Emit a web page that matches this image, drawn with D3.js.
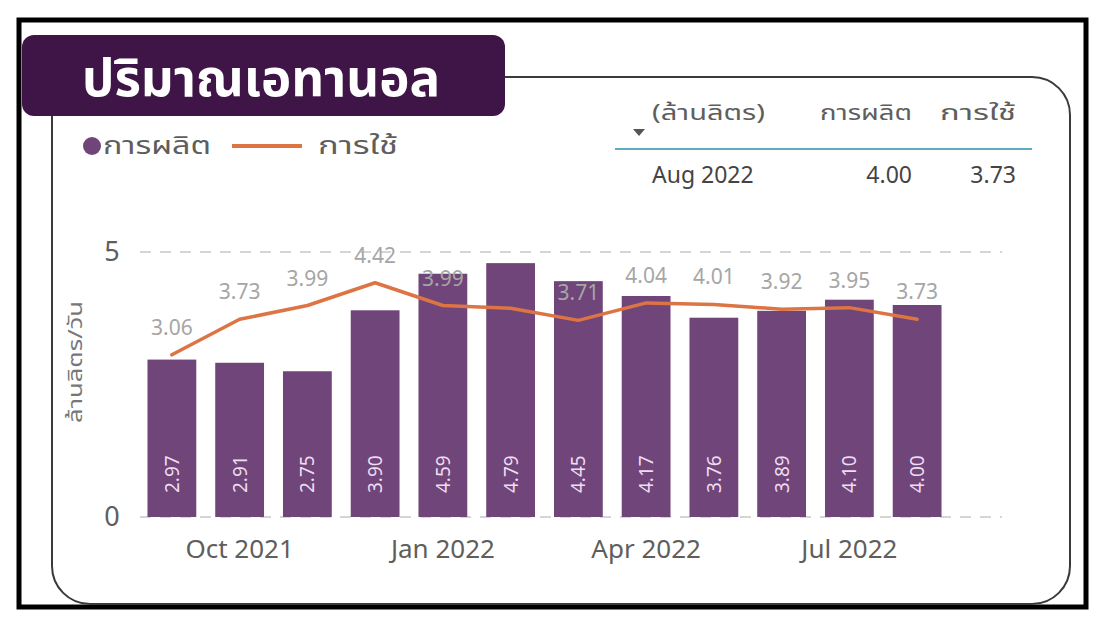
<!DOCTYPE html>
<html>
<head>
<meta charset="utf-8">
<script src="https://cdn.jsdelivr.net/npm/d3@7"></script>
<style>
  html, body { margin: 0; padding: 0; background: #ffffff; }
  svg { display: block; }
  text { font-family: "Noto Sans Thai", "Open Sans", "Noto Sans", sans-serif; }
</style>
</head>
<body>
<svg id="chart" width="1100" height="622"></svg>
<script>
// ---- data ----
const categories = ["Sep 2021","Oct 2021","Nov 2021","Dec 2021","Jan 2022","Feb 2022","Mar 2022","Apr 2022","May 2022","Jun 2022","Jul 2022","Aug 2022"];
const production = [2.97, 2.91, 2.75, 3.90, 4.59, 4.79, 4.45, 4.17, 3.76, 3.89, 4.10, 4.00];
const consumption = [3.06, 3.73, 3.99, 4.42, 3.99, 3.94, 3.71, 4.04, 4.01, 3.92, 3.95, 3.73];
const consumptionLabelShown = [true, true, true, true, true, false, true, true, true, true, true, true];
const xTickLabels = ["Oct 2021", "Jan 2022", "Apr 2022", "Jul 2022"];
const yTicks = [0, 5];
const title = "ปริมาณเอทานอล";
const seriesNames = ["การผลิต", "การใช้"];
const yAxisTitle = "ล้านลิตร/วัน";
const tableHeader = ["(ล้านลิตร)", "การผลิต", "การใช้"];
const tableRow = ["Aug 2022", "4.00", "3.73"];

// ---- styles ----
const barColor = "#704579";
const lineColor = "#dc7444";
const titleBg = "#3e1546";
const axisText = "#605e5c";
const labelGray = "#a6a6a6";

const svg = d3.select("#chart");

// outer black frame
svg.append("rect").attr("x", 19).attr("y", 20).attr("width", 1067).attr("height", 587)
  .attr("fill", "#fff").attr("stroke", "#000").attr("stroke-width", 5);

// inner rounded panel
svg.append("rect").attr("x", 52).attr("y", 77).attr("width", 1018).attr("height", 527)
  .attr("rx", 38).attr("ry", 38)
  .attr("fill", "#fff").attr("stroke", "#3a3a3a").attr("stroke-width", 2);

// title box
svg.append("rect").attr("x", 22).attr("y", 35).attr("width", 483).attr("height", 81)
  .attr("rx", 12).attr("fill", titleBg);
svg.append("text").attr("x", 82).attr("y", 96)
  .attr("font-size", 52).attr("font-weight", 700).attr("fill", "#fff")
  .attr("textLength", 358).attr("lengthAdjust", "spacingAndGlyphs").text(title);

// legend
svg.append("circle").attr("cx", 92).attr("cy", 146).attr("r", 9).attr("fill", barColor);
svg.append("text").attr("x", 103).attr("y", 154).attr("font-size", 24).attr("fill", axisText)
  .attr("textLength", 108).attr("lengthAdjust", "spacingAndGlyphs").text(seriesNames[0]);
svg.append("line").attr("x1", 232).attr("x2", 302).attr("y1", 146).attr("y2", 146)
  .attr("stroke", lineColor).attr("stroke-width", 4);
svg.append("text").attr("x", 318).attr("y", 154).attr("font-size", 24).attr("fill", axisText)
  .attr("textLength", 80).attr("lengthAdjust", "spacingAndGlyphs").text(seriesNames[1]);

// table
const colX = [652, 912, 1016];
const colAnchor = ["start", "end", "end"];
const headLen = [113, 92, 76];
svg.selectAll(".th").data(tableHeader).join("text")
  .attr("x", (d, i) => colX[i] - (colAnchor[i] === "end" ? headLen[i] : 0)).attr("y", 120)
  .attr("font-size", 22).attr("fill", axisText)
  .attr("textLength", (d, i) => headLen[i]).attr("lengthAdjust", "spacingAndGlyphs").text(d => d);
svg.append("path").attr("d", "M633,129 L645,129 L639,136 Z").attr("fill", "#555");
svg.append("line").attr("x1", 615).attr("x2", 1032).attr("y1", 149).attr("y2", 149)
  .attr("stroke", "#5aaec0").attr("stroke-width", 2);
svg.selectAll(".td").data(tableRow).join("text")
  .attr("x", (d, i) => colX[i]).attr("y", 183).attr("text-anchor", (d, i) => colAnchor[i])
  .attr("font-size", 23).attr("fill", "#444").text(d => d);

// scales
const x = d3.scaleBand().domain(categories).range([138, 951]).paddingInner(0.28).paddingOuter(0.14);
const y = d3.scaleLinear().domain([0, 5]).range([517, 252]);

// gridlines
svg.selectAll(".grid").data(yTicks).join("line")
  .attr("x1", 140).attr("x2", 1002).attr("y1", d => y(d)).attr("y2", d => y(d))
  .attr("stroke", "#c8c8c8").attr("stroke-width", 1.5).attr("stroke-dasharray", "11,9");

// y axis labels
const yAxis = d3.axisLeft(y).tickValues(yTicks).tickFormat(d3.format("d")).tickSize(0).tickPadding(0);
const gy = svg.append("g").attr("transform", "translate(122,0)").call(yAxis);
gy.select(".domain").remove();
gy.selectAll("text").attr("font-size", 27).attr("fill", axisText).attr("text-anchor", "middle").attr("dx", -10);

// y title
svg.append("text").attr("transform", "translate(82,362) rotate(-90)")
  .attr("text-anchor", "middle").attr("font-size", 20).attr("fill", "#777")
  .attr("textLength", 122).attr("lengthAdjust", "spacingAndGlyphs").text(yAxisTitle);

// bars
svg.selectAll(".bar").data(production).join("rect")
  .attr("x", (d, i) => x(categories[i])).attr("width", x.bandwidth())
  .attr("y", d => y(d)).attr("height", d => y(0) - y(d))
  .attr("fill", barColor);

// bar labels (rotated)
svg.selectAll(".blab").data(production).join("text")
  .attr("transform", (d, i) => `translate(${x(categories[i]) + x.bandwidth() / 2 + 7},${y(0) - 24}) rotate(-90)`)
  .attr("font-size", 19).attr("fill", "#eedcf2").text(d => d.toFixed(2));

// line
const cx = i => x(categories[i]) + x.bandwidth() / 2;
const line = d3.line().x((d, i) => cx(i)).y(d => y(d));
svg.append("path").datum(consumption).attr("d", line)
  .attr("fill", "none").attr("stroke", lineColor).attr("stroke-width", 3.5)
  .attr("stroke-linejoin", "round").attr("stroke-linecap", "round");

// line labels
const labelData = consumption.map((v, i) => ({ v, i })).filter(d => consumptionLabelShown[d.i]);
svg.selectAll(".llab").data(labelData).join("text")
  .attr("x", d => cx(d.i))
  .attr("y", d => y(d.v) - 20)
  .attr("text-anchor", "middle").attr("font-size", 21).attr("fill", labelGray)
  .text(d => d.v.toFixed(2));

// x axis labels
const xAxis = d3.axisBottom(x).tickValues(xTickLabels).tickSize(0).tickPadding(0);
const gx = svg.append("g").attr("transform", "translate(0,540)").call(xAxis);
gx.select(".domain").remove();
gx.selectAll("text").attr("font-size", 26).attr("fill", axisText).attr("dy", "0.71em");
</script>
</body>
</html>
